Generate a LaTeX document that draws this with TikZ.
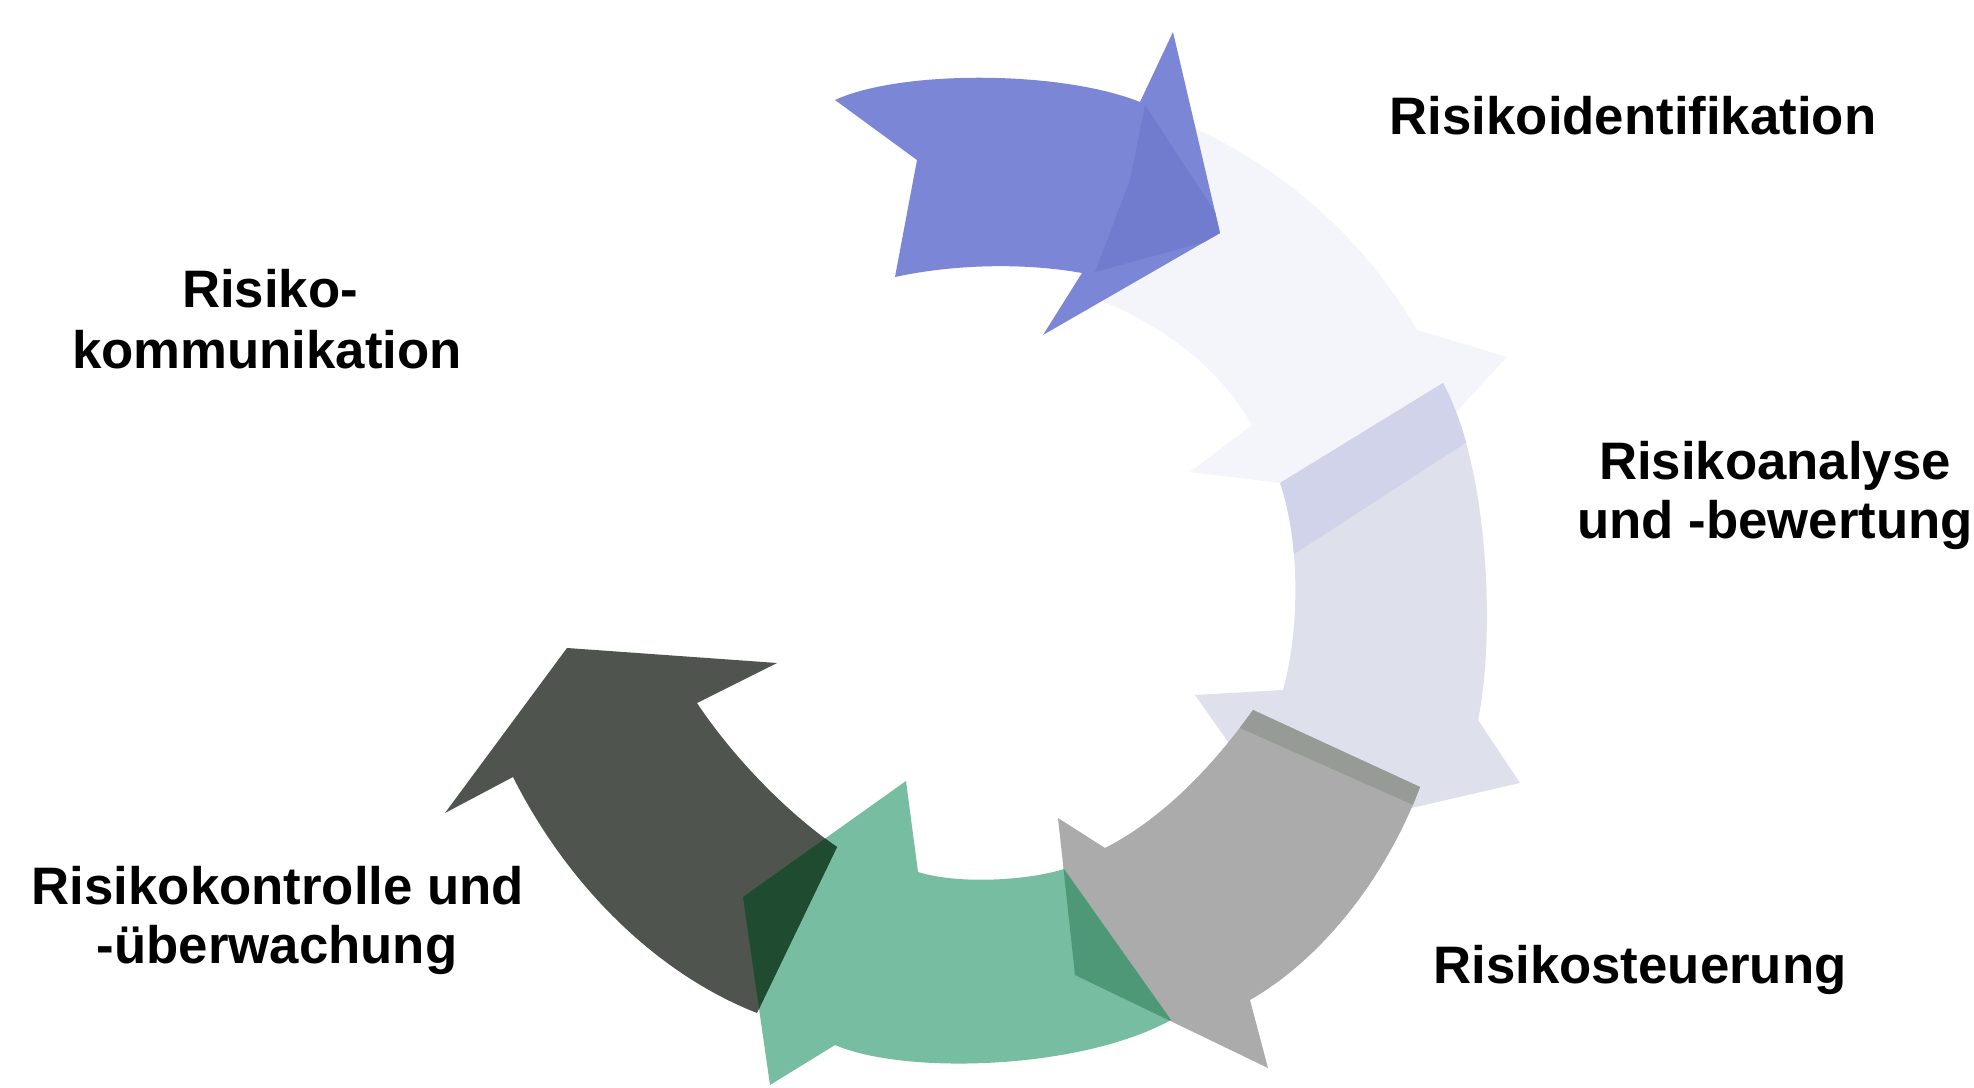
\documentclass[tikz,border=0pt]{standalone}
\usepackage{fontspec}
\setmainfont{Liberation Sans}

\definecolor{bluearr}{HTML}{7C86D6}
\definecolor{bluedark}{HTML}{727CCE}
\definecolor{faintA}{HTML}{F4F5FA}
\definecolor{faintB}{HTML}{DEE0EC}
\definecolor{faintBtop}{HTML}{D0D3EA}
\definecolor{grayarr}{HTML}{ABABAB}
\definecolor{graydark}{HTML}{969B96}
\definecolor{greenarr}{HTML}{76BDA2}
\definecolor{greenover}{HTML}{4F9877}
\definecolor{darkarr}{HTML}{4F544E}
\definecolor{darkover}{HTML}{1F4B30}

% outlines of the six ring arrows (pixel grid, y pointing down)
\newcommand{\arrBlue}{(835,100) .. controls (900,70) and (1060,70) .. (1140,102)
  -- (1173,32) -- (1220,233) -- (1043,335) -- (1082,273)
  .. controls (1020,262) and (950,265) .. (895,277) -- (917,160) -- cycle}
\newcommand{\arrFaintA}{(1173,119) .. controls (1275,160) and (1362,235) .. (1417,330)
  -- (1507,357) -- (1379,495) -- (1190,472) -- (1252,425)
  .. controls (1218,366) and (1163,326) .. (1100,300) -- (1176,225) -- cycle}
\newcommand{\arrFaintB}{(1443,383) .. controls (1490,470) and (1495,640) .. (1478,720)
  -- (1520,783) -- (1294,835) -- (1195,695) -- (1283,690)
  .. controls (1300,630) and (1300,540) .. (1280,483) -- cycle}
\newcommand{\arrGray}{(1420,787) -- (1253,710)
  .. controls (1210,770) and (1160,820) .. (1105,848)
  -- (1058,818) -- (1075,975) -- (1268,1068) -- (1250,1000)
  .. controls (1320,960) and (1385,880) .. (1420,787) -- cycle}
\newcommand{\arrGreen}{(906,781) -- (743,897) -- (770,1085) -- (835,1045)
  .. controls (905,1075) and (1080,1070) .. (1171,1020) -- (1064,869)
  .. controls (1030,880) and (960,885) .. (918,872) -- cycle}
\newcommand{\arrDark}{(567,648) -- (777,663) -- (697,703)
  .. controls (735,760) and (790,815) .. (837,847) -- (757,1013)
  .. controls (660,975) and (570,890) .. (513,777) -- (445,813) -- cycle}

\begin{document}
\begin{tikzpicture}[x=0.01cm,y=-0.01cm,
  lbl/.style={anchor=base,inner sep=0pt,font=\fontsize{15}{17}\selectfont\bfseries}]
\useasboundingbox (0,0) rectangle (1974,1088);
\fill[white] (0,0) rectangle (1974,1088);

% pale arrows on the right
\fill[faintA] \arrFaintA;
\fill[faintB] \arrFaintB;
\begin{scope}
  \clip \arrFaintB;
  \fill[faintBtop] (1265,440) -- (1450,360) -- (1470,440) -- (1285,560) -- cycle;
\end{scope}

% blue arrow with its darker head facet
\fill[bluearr] \arrBlue;
\begin{scope}
  \clip \arrBlue;
  \fill[bluedark] (1145,105) -- (1230,235) -- (1095,272) -- (1130,180) -- cycle;
\end{scope}

% gray arrow with shaded tail end
\fill[grayarr] \arrGray;
\begin{scope}
  \clip \arrGray;
  \fill[graydark] (1245,700) -- (1430,780) -- (1420,808) -- (1240,728) -- cycle;
\end{scope}

% green arrow, darker where it covers the gray head
\fill[greenarr] \arrGreen;
\begin{scope}
  \clip \arrGreen;
  \fill[greenover] \arrGray;
\end{scope}

% dark arrow, darkest where it meets the green head
\fill[darkarr] \arrDark;
\begin{scope}
  \clip \arrGreen;
  \fill[darkover] \arrDark;
\end{scope}

% labels
\node[lbl] (ident) at (1633,135) {Risikoidentifikation};
\node[lbl] (anaA) at (1775,480) {Risikoanalyse};
\node[lbl] (anaB) at (1775,538) {und -bewertung};
\node[lbl] (steu) at (1640,983) {Risikosteuerung};
\node[lbl] (kontA) at (278,904) {Risikokontrolle und};
\node[lbl] (kontB) at (277,963) {-überwachung};
\node[lbl] (kommA) at (270,308) {Risiko-};
\node[lbl] (kommB) at (267,369) {kommunikation};
\end{tikzpicture}
\end{document}
